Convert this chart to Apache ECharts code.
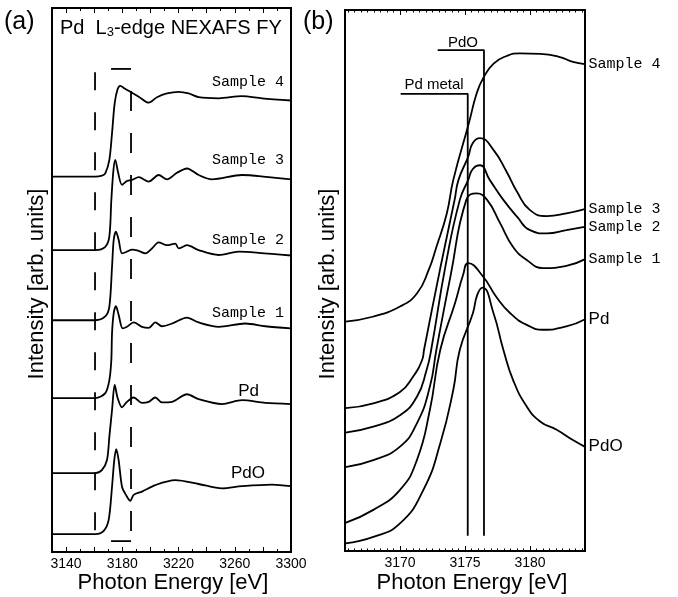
<!DOCTYPE html>
<html><head><meta charset="utf-8">
<script src="https://cdn.jsdelivr.net/npm/echarts@6/dist/echarts.min.js"></script>
<style>html,body{margin:0;padding:0;background:#fff}#c{width:678px;height:597px}</style>
</head><body><div id="c"></div>
<script>
// ---------- Panel (a): wide-range NEXAFS spectra [photon energy (eV), intensity (arb.)]
const a_sample4 = [[3130,69.0],[3160.8,69.0],[3165.6,69.2],[3167.9,69.6],[3170.8,72.1],[3172.7,77.0],[3174.6,82.5],[3176.7,85.1],[3178.6,85.7],[3181.7,85.2],[3185.7,84.6],[3191.7,83.7],[3198.8,82.6],[3204.7,83.6],[3211.8,84.3],[3220.1,84.6],[3227.2,84.3],[3234.3,83.6],[3248.6,83.4],[3265.1,83.8],[3279.4,83.4],[3300,83.0]];
const a_sample3 = [[3130,55.5],[3160.8,55.5],[3167.9,56.1],[3170.8,58.0],[3172.2,64.7],[3173.7,70.2],[3175.0,72.1],[3176.9,69.9],[3179.8,67.5],[3183.3,68.2],[3186.9,68.4],[3191.7,68.9],[3198.8,68.1],[3205.9,69.3],[3211.8,68.5],[3218.9,69.7],[3226,70.5],[3234.3,69.3],[3243.8,68.5],[3265.1,69.3],[3284.1,68.9],[3300,68.5]];
const a_sample2 = [[3130,42.6],[3160.8,42.6],[3167.9,43.3],[3170.8,45.1],[3172.7,52.4],[3173.9,57.4],[3175.5,58.9],[3177.4,57.4],[3179.8,54.9],[3183.3,55.2],[3186.9,55.6],[3191.2,55.4],[3196.4,54.9],[3201.1,55.8],[3205.9,56.9],[3211.8,56.4],[3217.7,56.7],[3220.1,55.8],[3226,56.4],[3234.3,55.5],[3248.6,54.6],[3262.8,55.2],[3277,55.0],[3300,54.5]];
const a_sample1 = [[3130,28.3],[3160.8,28.3],[3167.9,29.2],[3170.8,31.6],[3172.2,35.3],[3172.7,40.2],[3173.9,43.9],[3175.5,45.2],[3177.4,43.6],[3180.3,41.1],[3183.3,41.4],[3188.1,42.2],[3194,41.4],[3198.8,41.2],[3203.5,42.2],[3208.2,41.5],[3215.4,42.0],[3226,43.1],[3234.3,42.2],[3248.6,41.4],[3267.5,42.0],[3281.7,41.5],[3300,41.1]];
const a_pd = [[3130,14.5],[3160.8,14.5],[3165.6,15.1],[3169.1,16.9],[3170.8,21.2],[3172.7,26.1],[3174.6,30.7],[3176.7,28.3],[3179.8,26.6],[3183.3,27.6],[3188.1,28.4],[3194,27.4],[3198.8,27.6],[3203.5,28.4],[3208.2,27.5],[3215.4,27.6],[3226,29.0],[3234.3,28.1],[3250.9,27.2],[3265.1,27.9],[3281.7,27.4],[3300,27.2]];
const a_pdo = [[3130,3.3],[3160.8,3.3],[3166.8,3.9],[3170.3,5.9],[3172.7,12.0],[3174.3,16.9],[3175.7,18.9],[3177.4,16.9],[3179.8,12.0],[3182.6,10.5],[3185.7,9.4],[3188.1,10.5],[3194,11.1],[3203.5,12.3],[3217.7,13.2],[3234.3,12.5],[3250.9,11.7],[3265.1,12.1],[3286.5,12.4],[3300,12.1]];

// ---------- Panel (b): edge region
const b_sample4 = [[3165.8,42.4],[3167.9,43.3],[3170.0,45.2],[3171.3,47.6],[3172.2,51.9],[3172.8,56.2],[3173.6,62.4],[3174.1,68.6],[3175.3,79.1],[3175.9,84.6],[3176.4,87.4],[3177.2,90.1],[3178.2,91.5],[3179.2,92.0],[3180.8,91.9],[3182.3,91.3],[3183.3,90.4],[3184.2,90.0]];
const b_sample3 = [[3165.8,26.4],[3167.95,27.3],[3170,29.4],[3171.0,32.2],[3171.7,35.3],[3171.85,37.2],[3173.1,52.3],[3174.2,64.9],[3174.5,68.6],[3175.25,72.9],[3175.6,75.4],[3176.15,76.3],[3177.2,74.1],[3178.2,70.1],[3179.0,66.4],[3180.0,63.0],[3181.3,61.9],[3182.8,62.4],[3184.2,63.2]];
const b_sample2 = [[3165.8,21.9],[3167.95,23.0],[3170,25.1],[3171.3,28.5],[3172.05,33.5],[3172.4,37.2],[3173.5,52.7],[3174.6,64.9],[3175.25,68.6],[3175.6,70.6],[3176.15,71.3],[3176.9,68.6],[3177.95,64.9],[3179.0,61.8],[3180.0,59.3],[3181.3,58.7],[3182.8,59.3],[3184.2,59.9]];
const b_sample1 = [[3165.8,15.5],[3167.95,16.8],[3170,19.3],[3171.3,23.6],[3172.3,30.4],[3172.8,37.2],[3173.9,51.0],[3175.1,64.9],[3175.9,66.1],[3176.7,64.9],[3177.7,60.6],[3178.7,56.2],[3179.75,53.8],[3181.0,52.3],[3182.8,52.7],[3184.2,53.9]];
const b_pd = [[3165.8,5.2],[3167.95,7.6],[3170,11.3],[3171.3,16.8],[3172.3,26.1],[3173.1,37.2],[3174.23,45.8],[3174.85,51.0],[3175.25,53.2],[3176.4,50.7],[3177.4,47.0],[3178.5,43.9],[3179.75,41.8],[3181.0,40.9],[3182.8,41.5],[3184.2,42.8]];
const b_pdo = [[3165.8,1.4],[3167.95,2.6],[3170,5.1],[3171.8,11.3],[3173.1,19.9],[3174.1,29.8],[3174.6,37.2],[3175.6,43.9],[3175.95,47.4],[3176.35,48.7],[3177.2,43.9],[3177.95,37.2],[3178.7,31.6],[3179.75,26.7],[3180.8,23.9],[3182.05,22.4],[3183.3,20.5],[3184.2,19.3]];

// ---------- names, ticks, markers
const namesA = ['Sample 4','Sample 3','Sample 2','Sample 1','Pd','PdO'];
const tickLabelsA = [3140,3180,3220,3260,3300];
const tickLabelsB = [3170,3175,3180];
const rangeA = [3130,3300];
const rangeB = [3165.77,3184.23];
const zoomWindowA = [3160.6,3186.2];      // dashed window in (a)
const edgePdMetal = 3175.21, edgePdO = 3176.46;
const edgeLabelStartPdMetal = 3170.05, edgeLabelStartPdO = 3172.9;

function steps(a,b,s){const r=[];for(let v=a;v<=b+1e-9;v+=s)r.push(+v.toFixed(3));return r;}

const FONT='Liberation Sans', MONO='Liberation Mono';
const seriesA=[a_sample4,a_sample3,a_sample2,a_sample1,a_pd,a_pdo];
const seriesB=[b_sample4,b_sample3,b_sample2,b_sample1,b_pd,b_pdo];

function xAx(grid,range,pos,ticks,len,labels){
  return {type:'value',gridIndex:grid,min:range[0],max:range[1],position:pos,
    axisLine:{show:false},splitLine:{show:false},
    axisTick:{show:true,inside:true,length:len,customValues:ticks,lineStyle:{color:'#000',width:1}},
    axisLabel:{show:!!labels,customValues:labels||[],color:'#000',fontFamily:FONT,fontSize:14,margin:5,
      formatter:v=>String(Math.round(v))}};
}
const xAxes=[
  xAx(0,rangeA,'bottom',steps(3140,3300,20),5,tickLabelsA),
  xAx(0,rangeA,'top',steps(3140,3300,20),5,null),
  xAx(0,rangeA,'bottom',steps(3130,3290,20),3,null),
  xAx(0,rangeA,'top',steps(3130,3290,20),3,null),
  xAx(1,rangeB,'bottom',steps(3170,3180,5),5,tickLabelsB),
  xAx(1,rangeB,'top',steps(3170,3180,5),5,null),
  xAx(1,rangeB,'bottom',steps(3166,3184,0.5),2.5,null),
  xAx(1,rangeB,'top',steps(3166,3184,0.5),2.5,null)
];
const yAxes=[0,1].map(g=>({type:'value',gridIndex:g,min:0,max:100,axisLine:{show:false},axisTick:{show:false},axisLabel:{show:false},splitLine:{show:false}}));

const lineBase={type:'line',symbol:'none',silent:true,lineStyle:{color:'#000',width:1.8},z:3};
const series=[];
seriesA.forEach((d,i)=>series.push(Object.assign({},lineBase,{name:'a '+namesA[i],smooth:0.3,xAxisIndex:0,yAxisIndex:0,data:d})));
seriesB.forEach((d,i)=>series.push(Object.assign({},lineBase,{name:namesA[i],smooth:0.5,xAxisIndex:4,yAxisIndex:1,data:d,
  endLabel:{show:true,formatter:namesA[i],distance:4,color:'#000',
    fontFamily:i<4?MONO:FONT,fontSize:i<4?15:17}})));
// dashed window in panel (a)
const dashBase={type:'line',symbol:'none',silent:true,xAxisIndex:0,yAxisIndex:0,z:2};
series.push(Object.assign({},dashBase,{data:[[zoomWindowA[0],88.2],[zoomWindowA[0],2.8]],lineStyle:{color:'#000',width:1.8,type:[18,22],dashOffset:0}}));
series.push(Object.assign({},dashBase,{data:[[zoomWindowA[1],88.8],[zoomWindowA[1],2.0]],lineStyle:{color:'#000',width:1.8,type:[20,22],dashOffset:20}}));
series.push(Object.assign({},dashBase,{data:[[3172.0,88.8],[zoomWindowA[1],88.8]],lineStyle:{color:'#000',width:1.8}}));
series.push(Object.assign({},dashBase,{data:[[3172.0,2.0],[zoomWindowA[1],2.0]],lineStyle:{color:'#000',width:1.8}}));
// edge markers in panel (b)
series.push({type:'line',symbol:'none',silent:true,xAxisIndex:4,yAxisIndex:1,z:2,lineStyle:{color:'#000',width:1.8},
  data:[[edgePdMetal,2.8],[edgePdMetal,84.5],[edgeLabelStartPdMetal,84.5]]});
series.push({type:'line',symbol:'none',silent:true,xAxisIndex:4,yAxisIndex:1,z:2,lineStyle:{color:'#000',width:1.8},
  data:[[edgePdO,2.8],[edgePdO,92.6],[edgeLabelStartPdO,92.6]]});

function txt(x,y,text,size,opt){return Object.assign({type:'text',x:x,y:y,silent:true,style:{text:text,fill:'#000',font:size+'px "'+FONT+'"',textAlign:'left',textVerticalAlign:'middle'}},opt||{});}
function styleMerge(el,st){Object.assign(el.style,st);return el;}
const graphic=[
  txt(4,22,'(a)',25),
  txt(303,22,'(b)',25),
  {type:'text',x:60,y:28,silent:true,style:{text:'{n|Pd  L}{s|3}{n|-edge NEXAFS FY}',textAlign:'left',textVerticalAlign:'middle',
    rich:{n:{fontFamily:FONT,fontSize:20,color:'#000',lineHeight:24},s:{fontFamily:FONT,fontSize:13,color:'#000',lineHeight:24,padding:[9,0,0,0]}}}},
  styleMerge(txt(37,284,'Intensity [arb. units]',22,{rotation:Math.PI/2}),{textAlign:'center'}),
  styleMerge(txt(328,284,'Intensity [arb. units]',22,{rotation:Math.PI/2}),{textAlign:'center'}),
  styleMerge(txt(173,583,'Photon Energy [eV]',22),{textAlign:'center'}),
  styleMerge(txt(472,583,'Photon Energy [eV]',22),{textAlign:'center'}),
  styleMerge(txt(434,85,'Pd metal',15),{textAlign:'center'}),
  styleMerge(txt(463,43,'PdO',15),{textAlign:'center'})
];
const labelPosA=[[284,82],[284,160],[284,240],[284,313],[259,391],[265,473]];
namesA.forEach((n,i)=>{
  const el=txt(labelPosA[i][0],labelPosA[i][1],n,i<4?15:17);
  el.style.textAlign='right';
  if(i<4) el.style.font='15px "'+MONO+'"';
  graphic.push(el);
});

const chart=echarts.init(document.getElementById('c'),null,{renderer:'canvas'});
chart.setOption({
  animation:false,backgroundColor:'#fff',
  grid:[{left:52,top:8,width:239,height:544,show:true,borderColor:'#000',borderWidth:2,backgroundColor:'transparent'},
        {left:345,top:10,width:240,height:541,show:true,borderColor:'#000',borderWidth:2,backgroundColor:'transparent'}],
  xAxis:xAxes,yAxis:yAxes,series:series,graphic:graphic
});
</script></body></html>
